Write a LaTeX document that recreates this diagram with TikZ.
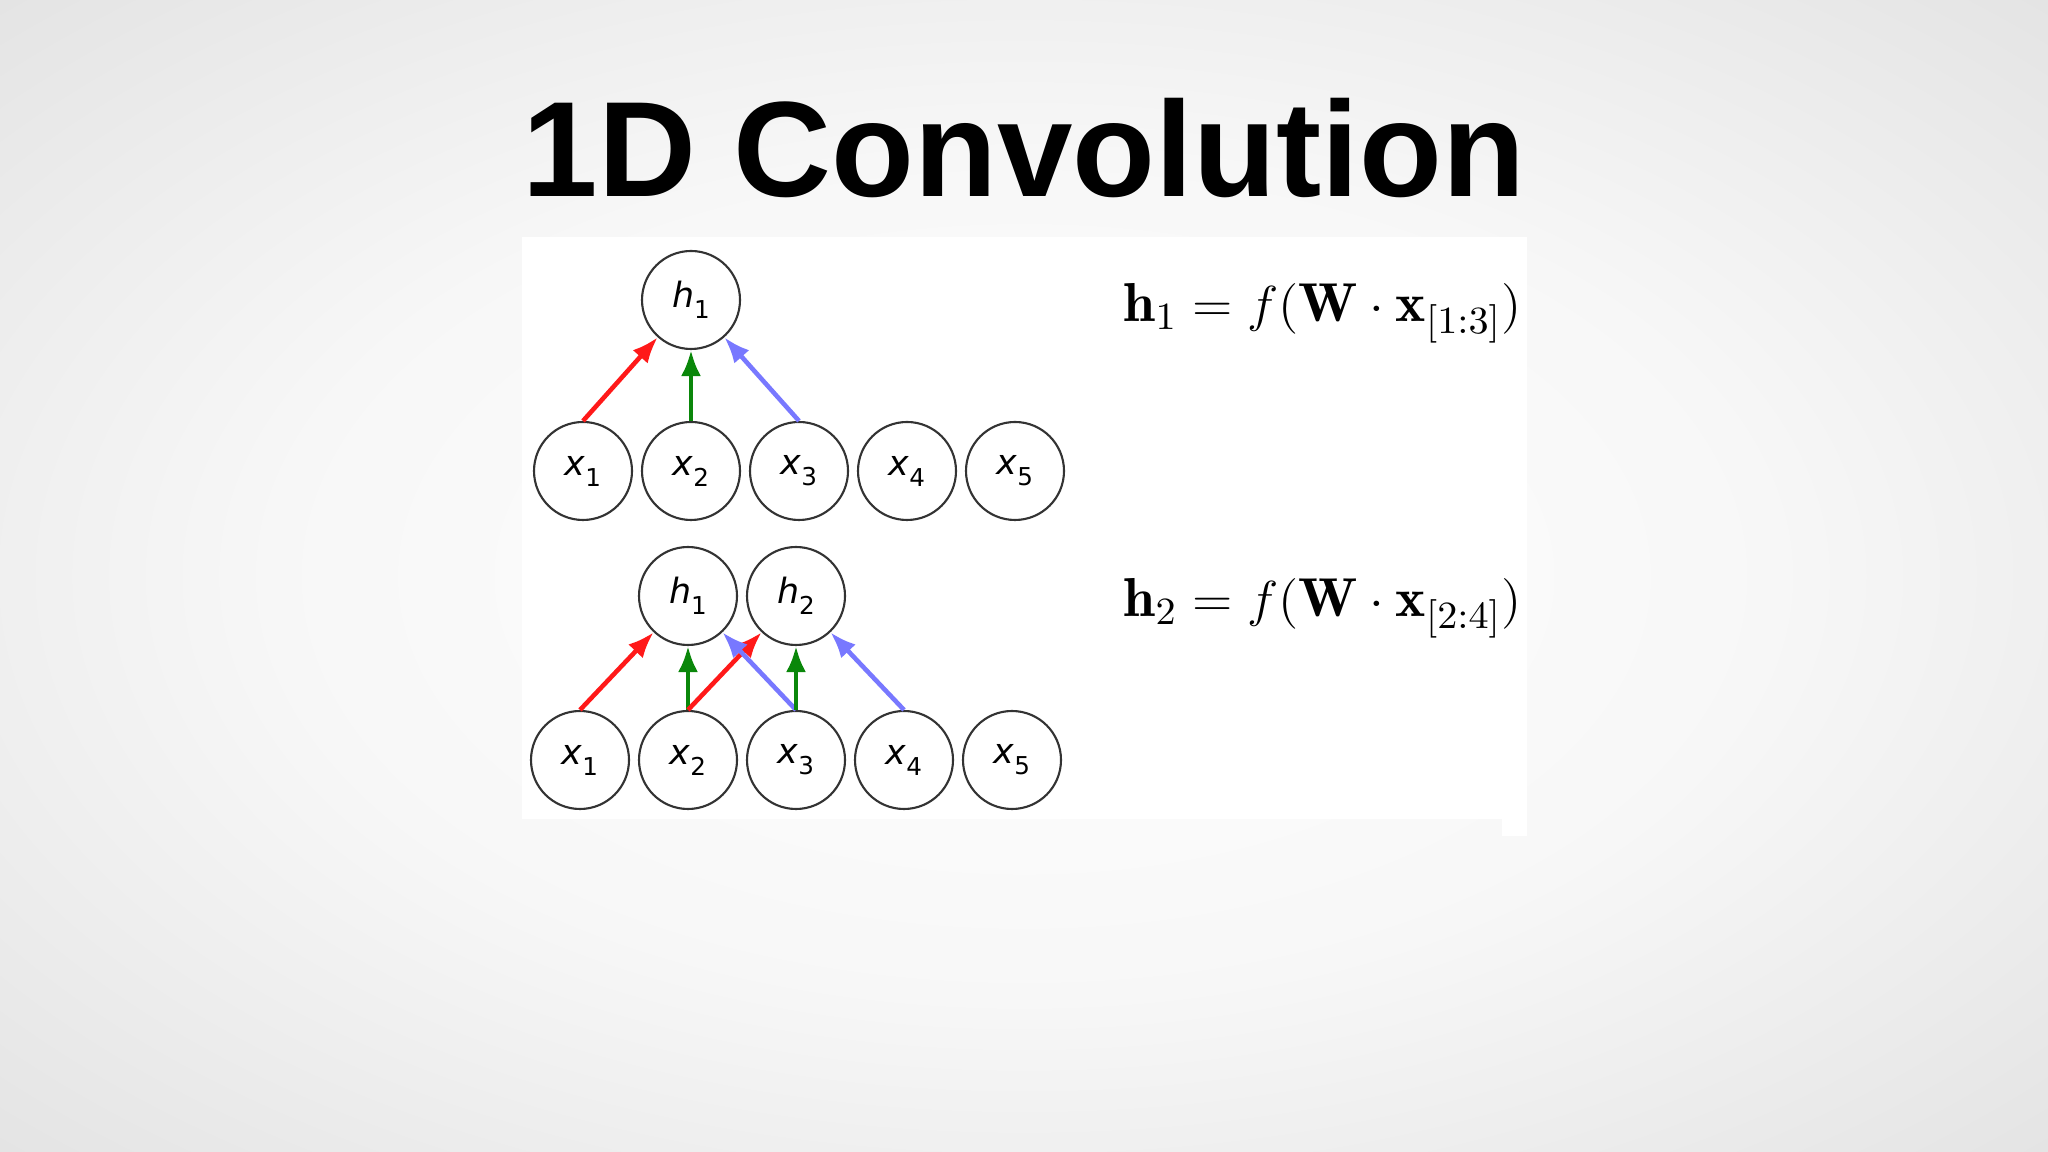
\documentclass[tikz,border=0pt]{standalone}
\usepackage{fontspec}
\usetikzlibrary{arrows.meta}

\newfontfamily\titlefont{Liberation Sans}
\newfontfamily\cellfont{DejaVu Sans}
\definecolor{wred}{RGB}{255,25,25}
\definecolor{wgreen}{RGB}{10,135,10}
\definecolor{wblue}{RGB}{120,120,255}
\pgfdeclareradialshading{slidebg}{\pgfpoint{0bp}{0bp}}{color(0bp)=(white); color(18bp)=(black!3); color(50bp)=(black!17)}
\newcommand{\cellvar}[2]{{\cellfont\fontsize{9.9}{11}\selectfont\itshape #1\raisebox{-1.1mm}{\upshape\fontsize{7}{8}\selectfont #2}}}
\newcommand{\eqwide}[1]{\scalebox{1.045}[1]{#1}}

\begin{document}
\begin{tikzpicture}[x=0.1mm, y=-0.1mm, node distance={10.8mm},
    cell/.style = {draw=black!80, line width=0.6pt, circle, fill=white, minimum size=9.8mm, inner sep=0pt},
    wire/.style = {-{Latex[length=2.6mm, width=2mm]}, line width=1.3pt},
    eq/.style = {anchor=base west, inner sep=0pt, font=\fontsize{15.6}{18}\selectfont}]
        \shade[shading=slidebg] (0,0) rectangle (2048,1152);
        \useasboundingbox (0,0) rectangle (2048,1152);
        \fill[white] (522,237) rectangle (1527,819);
        \fill[white] (1502,819) rectangle (1527,836);

        \node[anchor=base] (title) at (1024,197) {\titlefont\bfseries\fontsize{38.6}{44}\selectfont 1D Convolution};

        % first output
        \node[cell] (a1) at (583,471) {\cellvar{x}{1}};
        \node[cell] (a2) [right of=a1] {\cellvar{x}{2}};
        \node[cell] (a3) [right of=a2] {\cellvar{x}{3}};
        \node[cell] (a4) [right of=a3] {\cellvar{x}{4}};
        \node[cell] (a5) [right of=a4] {\cellvar{x}{5}};
        \node[cell] (ah1) [above of=a2, node distance=17.1mm] {\cellvar{h}{1}};
        \node[eq] (eq1) at (1123,322) {\eqwide{$\mathbf{h}_1 = f(\mathbf{W}\cdot\mathbf{x}_{[1:3]})$}};

        \draw[wire, wred] (a1.north) -- (ah1);
        \draw[wire, wgreen] (a2.north) -- (ah1);
        \draw[wire, wblue] (a3.north) -- (ah1);

        % second output
        \node[cell] (b1) at (580,760) {\cellvar{x}{1}};
        \node[cell] (b2) [right of=b1] {\cellvar{x}{2}};
        \node[cell] (b3) [right of=b2] {\cellvar{x}{3}};
        \node[cell] (b4) [right of=b3] {\cellvar{x}{4}};
        \node[cell] (b5) [right of=b4] {\cellvar{x}{5}};
        \node[cell] (bh1) [above of=b2, node distance=16.4mm] {\cellvar{h}{1}};
        \node[cell] (bh2) [above of=b3, node distance=16.4mm] {\cellvar{h}{2}};
        \node[eq] (eq2) at (1123,617) {\eqwide{$\mathbf{h}_2 = f(\mathbf{W}\cdot\mathbf{x}_{[2:4]})$}};

        \draw[wire, wred] (b1.north) -- (bh1);
        \draw[wire, wgreen] (b2.north) -- (bh1);
        \draw[wire, wred] (b2.north) -- (bh2);
        \draw[wire, wblue] (b3.north) -- (bh1);
        \draw[wire, wgreen] (b3.north) -- (bh2);
        \draw[wire, wblue] (b4.north) -- (bh2);
\end{tikzpicture}
\end{document}
